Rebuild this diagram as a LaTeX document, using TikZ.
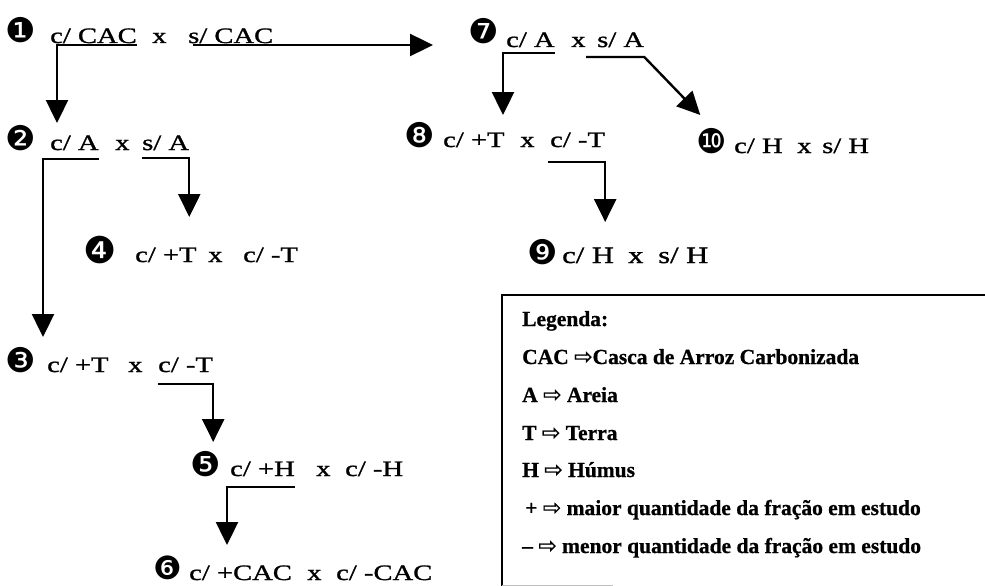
\documentclass[tikz,border=0pt]{standalone}
\usepackage{fontspec}
\setmainfont{Liberation Serif}
\newfontfamily\mainf[FakeStretch=1.3,FakeBold=1.2]{Liberation Serif}
\newfontfamily\legf[FakeBold=0.8]{Liberation Serif Bold}
\newfontfamily\symf{DejaVu Sans}
\newfontfamily\arrf[FakeBold=1]{DejaVu Sans}
\usetikzlibrary{arrows.meta}
\newcommand{\legarr}{{\arrf\fontsize{22}{22}\selectfont ⇨}}
\begin{document}
\begin{tikzpicture}[x=1pt,y=-1pt,
  txt/.style={font=\mainf\fontsize{22}{26}\selectfont, inner sep=0pt, anchor=base west},
  bul/.style={font=\symf\fontsize{34}{36}\selectfont, inner sep=0pt, anchor=center, text height=20pt, text depth=0pt},
  leg/.style={font=\legf\fontsize{21.5}{26}\selectfont, inner sep=0pt, anchor=base west},
  conn/.style={line width=2.4pt, line join=miter, -{Triangle[length=23pt,width=22pt]}},
  boxline/.style={line width=2pt},
  ]
\useasboundingbox (0,0) rectangle (985,586);

% line 1
\node[bul] (b1) at (21,33) {❶};
\node[txt] (a1) at (50,43) {c/ CAC};
\node[txt] (x1) at (152,43) {x};
\node[txt] (s1) at (188,43) {s/ CAC};
% line 2
\node[bul] (b2) at (21,140) {❷};
\node[txt] (a2) at (50,150) {c/ A};
\node[txt] (x2) at (115,150) {x};
\node[txt] (s2) at (142,150) {s/ A};
% line 4
\node[bul, font=\symf\fontsize{37}{38}\selectfont] (b4) at (100,253) {❹};
\node[txt] (a4) at (135,262) {c/ +T};
\node[txt] (x4) at (208,262) {x};
\node[txt] (s4) at (243,262) {c/ -T};
% line 3
\node[bul] (b3) at (21,362) {❸};
\node[txt] (a3) at (47,372) {c/ +T};
\node[txt] (x3) at (128,372) {x};
\node[txt] (s3) at (158,372) {c/ -T};
% line 5
\node[bul] (b5) at (206,466) {❺};
\node[txt] (a5) at (230,476) {c/ +H};
\node[txt] (x5) at (316,476) {x};
\node[txt] (s5) at (345,476) {c/ -H};
% line 6
\node[bul, font=\symf\fontsize{32}{34}\selectfont] (b6) at (168,569) {❻};
\node[txt] (a6) at (189,580) {c/ +CAC};
\node[txt] (x6) at (307,580) {x};
\node[txt] (s6) at (336,580) {c/ -CAC};
% line 7
\node[bul] (b7) at (484,34) {❼};
\node[txt] (a7) at (506,47) {c/ A};
\node[txt] (x7) at (571,47) {x};
\node[txt] (s7) at (597,47) {s/ A};
% line 8
\node[bul] (b8) at (420,137) {❽};
\node[txt] (a8) at (443,147) {c/ +T};
\node[txt] (x8) at (520,147) {x};
\node[txt] (s8) at (550,147) {c/ -T};
% line 10
\node[bul] (b10) at (712,143) {❿};
\node[txt] (a10) at (734,153) {c/ H};
\node[txt] (x10) at (797,153) {x};
\node[txt] (s10) at (822,153) {s/ H};
% line 9
\node[bul] (b9) at (543,254) {❾};
\node[txt, font=\mainf\fontsize{23.5}{26}\selectfont] (a9) at (562,263) {c/ H};
\node[txt, font=\mainf\fontsize{23.5}{26}\selectfont] (x9) at (628,263) {x};
\node[txt, font=\mainf\fontsize{23.5}{26}\selectfont] (s9) at (658,263) {s/ H};

% connectors
\coordinate (t17) at (433,45);
\draw[conn] ([yshift=-2pt]a1.base east) -- ([yshift=-2pt,xshift=7pt]a1.base west) -- ++(0,78);
\draw[conn] ([yshift=-2pt,xshift=5pt]s1.base west) -- (t17);
\draw[conn] ([yshift=-9pt]a2.base east) -- ([yshift=-9pt,xshift=-7pt]a2.base west) -- ++(0,178);
\draw[conn] ([yshift=-8pt]s2.base west) -- ([yshift=-8pt]s2.base east) -- ++(0,59);
\draw[conn] ([yshift=-12pt]s3.base west) -- ([yshift=-12pt]s3.base east) -- ++(0,58);
\draw[conn] ([yshift=-11pt]a5.base east) -- ([yshift=-11pt,xshift=-3pt]a5.base west) -- ++(0,58);
\draw[conn] ([yshift=-6pt]a7.base east) -- ([yshift=-6pt,xshift=-3pt]a7.base west) -- ++(0,62);
\draw[conn] ([yshift=-10pt,xshift=-11pt]s7.base west) -- ([yshift=-10pt]s7.base east) -- ++(56,58);
\draw[conn] ([yshift=-15pt,xshift=-2pt]s8.base west) -- ([yshift=-15pt]s8.base east) -- ++(0,60);

% legend
\coordinate (lgtl) at (502,295);
\coordinate (lgtr) at (985,295);
\coordinate (lgbl) at (502,586);
\draw[boxline] (lgtr) -- (lgtl) -- (lgbl);
\draw[gray!50, line width=1pt] (502,585) -- (613,585);
\node[leg] (l0) at (522,326) {Legenda:};
\node[leg] (l1) at (522,364) {CAC \legarr Casca de Arroz Carbonizada};
\node[leg] (l2) at (522,402) {A \legarr{} Areia};
\node[leg] (l3) at (522,440) {T \legarr{} Terra};
\node[leg] (l4) at (522,477) {H \legarr{} Húmus};
\node[leg] (l5) at (525,515) {+ \legarr{} maior quantidade da fração em estudo};
\node[leg] (l6) at (522,553) {– \legarr{} menor quantidade da fração em estudo};
\end{tikzpicture}
\end{document}
